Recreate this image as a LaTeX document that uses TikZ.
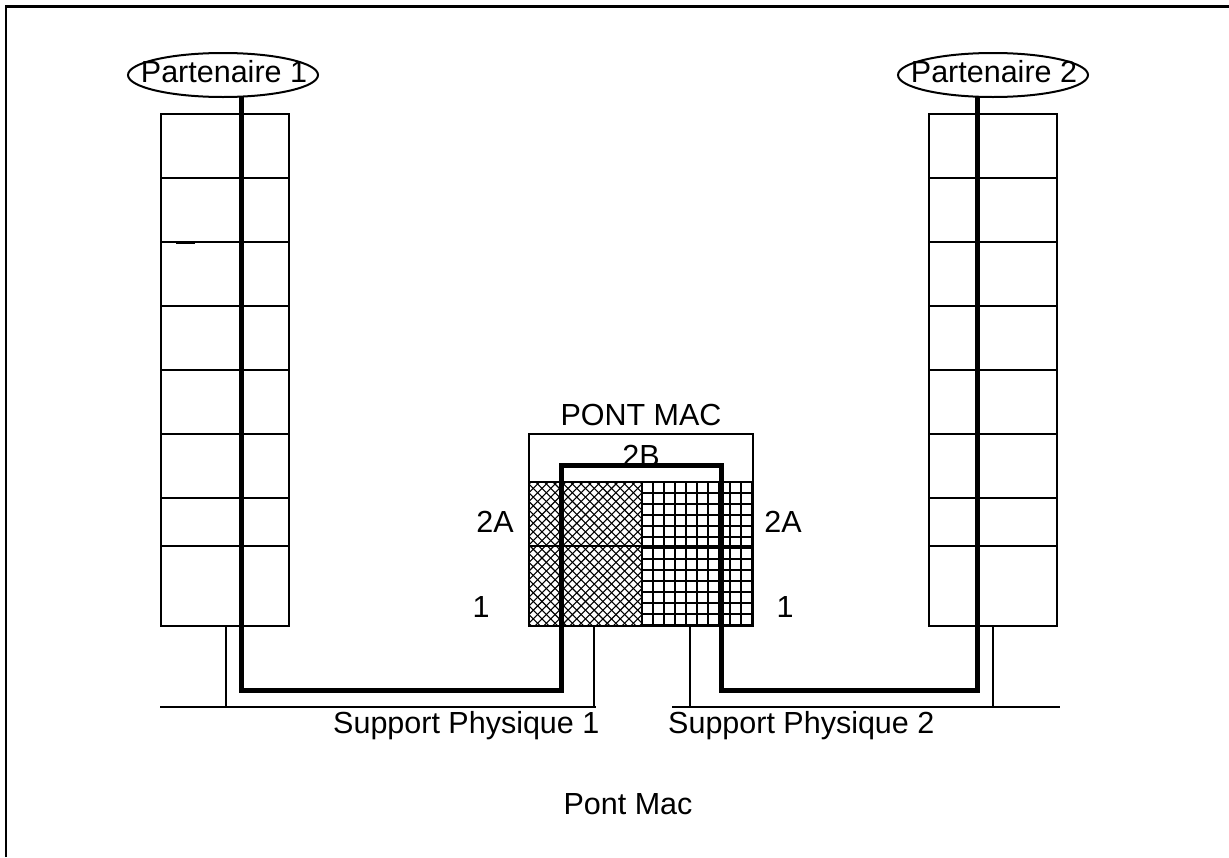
\documentclass[tikz,border=0pt]{standalone}
\usepackage{fontspec}
\setmainfont{Liberation Sans}
\usetikzlibrary{shapes.geometric}
\tikzset{
  thinline/.style={line width=1.8pt},
  path/.style={line width=5pt, miter limit=10},
  lbl/.style={font=\fontsize{30.5}{36}\selectfont, inner sep=0pt, anchor=base},
  oval/.style={draw, ellipse, line width=2pt, inner sep=0pt, minimum width=190pt, minimum height=44pt},
  hatchline/.style={line width=1.1pt}
}
\begin{document}
\begin{tikzpicture}[x=1pt,y=-1pt]
\useasboundingbox (0,0) rectangle (1229,857);
% frame
\draw[line width=2.5pt] (6,857) -- (6,6.5) -- (1229,6.5);

% partners
\node[oval] (p1) at (223,75) {};
\node[lbl] (t1) at (224,82) {Partenaire 1};
\node[oval] (p2) at (993,75) {};
\node[lbl] (t2) at (994,82) {Partenaire 2};

% left station column
\draw[thinline] (161,114) rectangle (289,626);
\foreach \y in {178,242,306,370,434,498,546}
  \draw[thinline] (161,\y) -- (289,\y);
\draw[line width=3pt] (176,242) -- (195,242);

% right station column
\draw[thinline] (929,114) rectangle (1057,626);
\foreach \y in {178,242,306,370,434,498,546}
  \draw[thinline] (929,\y) -- (1057,\y);

% bridge
\node[lbl] (pm) at (641,425) {PONT MAC};
\draw[thinline] (529,434) rectangle (753,482);
\begin{scope}
  \clip (529,482) rectangle (642,626);
  \foreach \i in {-150,-141.3,...,130}
    {\draw[hatchline] (529+\i,482) -- ++(150,150);
     \draw[hatchline] (642-\i,482) -- ++(-150,150);}
\end{scope}
\begin{scope}
  \clip (642,482) rectangle (753,626);
  \foreach \x in {653,664,...,753}
    \draw[hatchline] (\x,482) -- (\x,626);
  \foreach \y in {493,504,...,626}
    \draw[hatchline] (642,\y) -- (753,\y);
\end{scope}
\draw[line width=2.6pt] (529,482) rectangle (753,626);
\draw[thinline] (642,482) -- (642,626);
\draw[thinline] (529,546) -- (753,546);
\node[lbl] (b2b) at (641,466) {2B};
\node[lbl] (l2a) at (495,532) {2A};
\node[lbl] (l1) at (481,617) {1};
\node[lbl] (r2a) at (783,532) {2A};
\node[lbl] (r1) at (785,617) {1};

% supports
\draw[thinline] (160,707) -- (596,707);
\draw[thinline] (226,626) -- (226,707);
\draw[thinline] (594,626) -- (594,707);
\draw[thinline] (672,707) -- (1060,707);
\draw[thinline] (690,626) -- (690,707);
\draw[thinline] (993,626) -- (993,707);
\node[lbl, anchor=base west] (s1) at (333,733) {Support Physique 1};
\node[lbl, anchor=base west] (s2) at (668,733) {Support Physique 2};
\node[lbl] (cap) at (628,814) {Pont Mac};

% data path
\coordinate (a1) at (241.7,97);
\coordinate (a2) at (977.7,97);
\draw[path] (a1) -- (241.7,690) -- (561.7,690) -- (561.7,465.5) -- (721.7,465.5) -- (721.7,690) -- (977.7,690) -- (a2);
\end{tikzpicture}
\end{document}
